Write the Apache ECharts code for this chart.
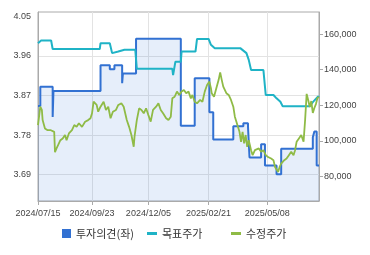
<!DOCTYPE html>
<html>
<head>
<meta charset="utf-8">
<script src="https://cdn.jsdelivr.net/npm/echarts@6/dist/echarts.min.js"></script>
<style>html,body{margin:0;padding:0;background:#fff;}#c{width:370px;height:255px;}</style>
</head>
<body>
<div id="c"></div>
<script>
// x axis: day offsets from 2024/07/15
const xTickDays = [0, 70, 143, 221, 297];
const xTickLabels = ['2024/07/15', '2024/09/23', '2024/12/05', '2025/02/21', '2025/05/08'];
const leftTicks = [3.69, 3.78, 3.87, 3.96, 4.05];
const rightTicks = [80000, 100000, 120000, 140000, 160000];
const seriesNames = ['투자의견(좌)', '목표주가', '수정주가'];

// 투자의견 (left axis, step)
const opinionDays = [0, 3, 19, 20, 81, 93, 99, 109, 110, 127, 185, 203, 222, 227, 253, 266, 272, 274, 289, 294, 309, 315, 356, 358, 361, 364];
const opinionValues = [3.846, 3.890, 3.821, 3.880, 3.939, 3.930, 3.939, 3.898, 3.920, 3.999, 3.801, 3.909, 3.832, 3.770, 3.800, 3.807, 3.800, 3.729, 3.759, 3.711, 3.691, 3.749, 3.775, 3.788, 3.711, 3.711];

// 목표주가 (right axis)
const targetDays = [0, 4, 17, 19, 80, 81, 93, 96, 104, 112, 126, 128, 174, 175, 178, 185, 186, 204, 206, 221, 224, 229, 262, 270, 273, 276, 292, 295, 305, 309, 314, 317, 352, 356, 362, 364];
const targetValues = [154900, 156400, 156400, 151600, 151600, 154900, 154900, 149300, 150200, 151200, 151200, 140500, 140500, 137000, 144500, 144500, 150200, 150200, 157300, 157300, 154000, 152100, 152100, 149300, 145500, 139800, 139800, 125800, 125800, 123900, 122000, 119400, 119400, 121800, 124600, 125200];

// 수정주가 (right axis)
const priceDays = [0,3,5,6,9,12,16,18,21,22,24,26,29,32,35,37,40,44,47,50,53,57,61,65,68,70,72,76,78,81,85,88,91,94,97,101,104,108,111,115,118,121,124,125,128,131,134,137,140,143,146,149,153,156,159,162,166,169,172,174,177,180,183,186,189,192,195,198,200,203,206,210,213,216,219,222,224,225,228,231,234,236,238,240,244,247,249,250,253,255,257,259,261,263,265,267,269,271,273,276,278,281,283,286,289,292,295,298,302,305,307,309,311,313,315,319,322,325,328,331,333,335,338,341,344,346,348,350,352,354,356,358,360,362,364];
const priceValues = [108900,119200,117400,111700,107000,106100,106100,107200,105100,93700,95800,97600,100400,101400,103300,100400,104200,106100,108900,107900,109900,107900,110800,111700,112700,115500,122000,120200,116400,119200,122000,117400,119200,112700,116400,117400,120200,121100,119200,111700,107900,103300,96700,102300,111700,118300,117400,115500,118300,114500,110800,117400,119200,121100,117400,115500,112700,111700,113600,123900,124800,127700,125800,127700,128600,126800,127700,123900,125800,122000,121100,123000,122000,127700,131400,133300,129600,126800,124800,129600,134300,138500,134300,130500,126800,125800,126800,123000,119200,113600,110800,107900,105100,99500,105100,98600,103300,96700,100400,94800,92000,94800,93900,95800,93900,94800,92000,91000,90100,89200,85400,84500,82600,85400,87300,89200,90100,92000,93900,92000,94800,99500,101400,103300,99500,111700,126400,123000,119000,122400,115700,118500,120700,124100,124700];

const zip = (a, b) => a.map((d, i) => [d, b[i]]);
const labelFont = { fontFamily: 'Liberation Sans, Arial, sans-serif', fontSize: 9, color: '#444' };
const legendText = { fontFamily: 'Noto Sans CJK KR, sans-serif', fontSize: 11, color: '#333' };
const legendBase = { top: 228, padding: 0, icon: 'rect', itemGap: 0, textStyle: legendText, selectedMode: false };

const chart = echarts.init(document.getElementById('c'), null, { renderer: 'canvas' });
chart.setOption({
  animation: false,
  grid: { left: 38, top: 12, width: 281, height: 189, show: true, borderColor: '#aaa', borderWidth: 1, backgroundColor: 'transparent' },
  legend: [
    Object.assign({ data: [seriesNames[0]], left: 62, itemWidth: 9, itemHeight: 9 }, legendBase),
    Object.assign({ data: [seriesNames[1]], left: 147, itemWidth: 10, itemHeight: 3 }, legendBase),
    Object.assign({ data: [seriesNames[2]], left: 231, itemWidth: 10, itemHeight: 3 }, legendBase)
  ],
  xAxis: {
    type: 'value', min: 0, max: 364,
    axisLine: { show: true, lineStyle: { color: '#aaa' } },
    axisTick: { show: true, length: 4, customValues: xTickDays, lineStyle: { color: '#aaa' } },
    axisLabel: Object.assign({ customValues: xTickDays, margin: 8, formatter: v => xTickLabels[xTickDays.indexOf(v)] || '' }, labelFont),
    splitLine: { show: true, lineStyle: { color: '#e3e3e3', width: 1 } }
  },
  yAxis: [
    {
      type: 'value', min: 3.63, max: 4.06, position: 'left',
      axisLine: { show: true, lineStyle: { color: '#aaa' } },
      axisTick: { show: false, customValues: leftTicks },
      axisLabel: Object.assign({ customValues: leftTicks, margin: 7, formatter: v => v.toFixed(2) }, labelFont),
      splitLine: { show: true, lineStyle: { color: ['#e3e3e3', '#e3e3e3', '#e3e3e3', '#e3e3e3', 'rgba(0,0,0,0)'], width: 1 } }
    },
    {
      type: 'value', min: 66250, max: 172400, position: 'right',
      axisLine: { show: true, lineStyle: { color: '#aaa' } },
      axisTick: { show: true, length: 4, customValues: rightTicks, lineStyle: { color: '#aaa' } },
      axisLabel: Object.assign({ customValues: rightTicks, margin: 5 }, labelFont),
      splitLine: { show: false }
    }
  ],
  series: [
    {
      name: seriesNames[0], type: 'line', yAxisIndex: 0, step: 'end', showSymbol: false,
      data: zip(opinionDays, opinionValues),
      itemStyle: { color: '#3271d2' },
      lineStyle: { color: '#3271d2', width: 2 },
      areaStyle: { color: 'rgba(46,111,214,0.17)' }
    },
    {
      name: seriesNames[1], type: 'line', yAxisIndex: 1, showSymbol: false,
      data: zip(targetDays, targetValues),
      itemStyle: { color: '#1fb3c6' },
      lineStyle: { color: '#1fb3c6', width: 2 }
    },
    {
      name: seriesNames[2], type: 'line', yAxisIndex: 1, showSymbol: false,
      data: zip(priceDays, priceValues),
      itemStyle: { color: '#8fbb46' },
      lineStyle: { color: '#8fbb46', width: 1.8 }
    }
  ]
});
</script>
</body>
</html>
